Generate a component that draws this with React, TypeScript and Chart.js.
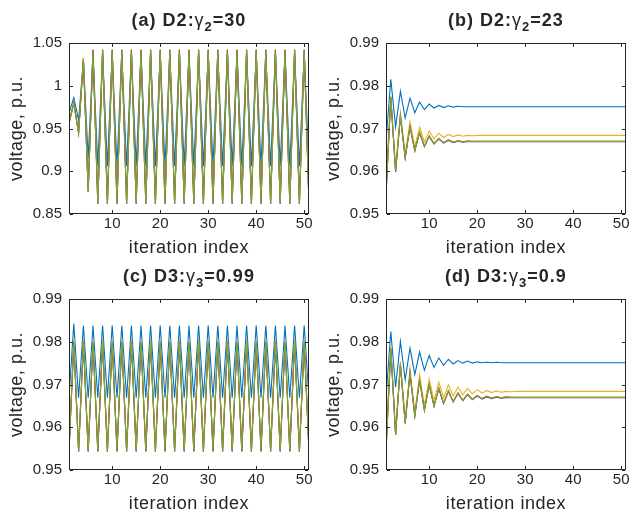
import React, { useEffect, useRef } from "react";
import { Chart, registerables } from "chart.js";

Chart.register(...registerables);

// ---------------- data ----------------
const iterations = [
  1, 2, 3, 4, 5, 6, 7, 8, 9, 10, 11, 12, 13, 14, 15, 16, 17, 18, 19, 20,
  21, 22, 23, 24, 25, 26, 27, 28, 29, 30, 31, 32, 33, 34, 35, 36, 37, 38, 39, 40,
  41, 42, 43, 44, 45, 46, 47, 48, 49, 50, 51,
];

const xTicks = [10, 20, 30, 40, 50];
const xTickLabels = ["10", "20", "30", "40", "50"];
const yTicksA = [0.85, 0.9, 0.95, 1, 1.05];
const yTickLabelsA = ["0.85", "0.9", "0.95", "1", "1.05"];
const yTicksB = [0.95, 0.96, 0.97, 0.98, 0.99];
const yTickLabelsB = ["0.95", "0.96", "0.97", "0.98", "0.99"];

const seriesColors = ["#0072BD", "#D95319", "#EDB120", "#7E2F8E", "#77AC30"];

// (a) D2: gamma2 = 30
const aBlue = [0.968, 0.986, 0.96, 1.03, 0.915, 1.038,
  0.906, 1.038, 0.906, 1.038, 0.906, 1.038, 0.906, 1.038, 0.906, 1.038,
  0.906, 1.038, 0.906, 1.038, 0.906, 1.038, 0.906, 1.038, 0.906, 1.038,
  0.906, 1.038, 0.906, 1.038, 0.906, 1.038, 0.906, 1.038, 0.906, 1.038,
  0.906, 1.038, 0.906, 1.038, 0.906, 1.038, 0.906, 1.038, 0.906, 1.038,
  0.906, 1.038, 0.906, 1.038, 0.906];
const aOrange = [0.957, 0.98, 0.945, 1.032, 0.876, 1.042,
  0.862, 1.042, 0.862, 1.042, 0.862, 1.042, 0.862, 1.042, 0.862, 1.042,
  0.862, 1.042, 0.862, 1.042, 0.862, 1.042, 0.862, 1.042, 0.862, 1.042,
  0.862, 1.042, 0.862, 1.042, 0.862, 1.042, 0.862, 1.042, 0.862, 1.042,
  0.862, 1.042, 0.862, 1.042, 0.862, 1.042, 0.862, 1.042, 0.862, 1.042,
  0.862, 1.042, 0.862, 1.042, 0.862];
const aYellow = [0.958, 0.981, 0.946, 1.032, 0.877, 1.041,
  0.863, 1.041, 0.863, 1.041, 0.863, 1.041, 0.863, 1.041, 0.863, 1.041,
  0.863, 1.041, 0.863, 1.041, 0.863, 1.041, 0.863, 1.041, 0.863, 1.041,
  0.863, 1.041, 0.863, 1.041, 0.863, 1.041, 0.863, 1.041, 0.863, 1.041,
  0.863, 1.041, 0.863, 1.041, 0.863, 1.041, 0.863, 1.041, 0.863, 1.041,
  0.863, 1.041, 0.863, 1.041, 0.863];
const aPurple = [0.956, 0.98, 0.945, 1.031, 0.876, 1.042,
  0.862, 1.042, 0.862, 1.042, 0.862, 1.042, 0.862, 1.042, 0.862, 1.042,
  0.862, 1.042, 0.862, 1.042, 0.862, 1.042, 0.862, 1.042, 0.862, 1.042,
  0.862, 1.042, 0.862, 1.042, 0.862, 1.042, 0.862, 1.042, 0.862, 1.042,
  0.862, 1.042, 0.862, 1.042, 0.862, 1.042, 0.862, 1.042, 0.862, 1.042,
  0.862, 1.042, 0.862, 1.042, 0.862];
const aGreen = [0.955, 0.979, 0.944, 1.031, 0.876, 1.041,
  0.863, 1.041, 0.863, 1.041, 0.863, 1.041, 0.863, 1.041, 0.863, 1.041,
  0.863, 1.041, 0.863, 1.041, 0.863, 1.041, 0.863, 1.041, 0.863, 1.041,
  0.863, 1.041, 0.863, 1.041, 0.863, 1.041, 0.863, 1.041, 0.863, 1.041,
  0.863, 1.041, 0.863, 1.041, 0.863, 1.041, 0.863, 1.041, 0.863, 1.041,
  0.863, 1.041, 0.863, 1.041, 0.863];

// (b) D2: gamma2 = 23
const bBlue = [0.967, 0.9815, 0.9704, 0.9787, 0.9725, 0.9771, 0.9737, 0.9762, 0.9744, 0.9757,
  0.9748, 0.9754, 0.9749, 0.9753, 0.975, 0.9752, 0.9751, 0.9751, 0.9751, 0.9751,
  0.9751, 0.9751, 0.9751, 0.9751, 0.9751, 0.9751, 0.9751, 0.9751, 0.9751, 0.9751,
  0.9751, 0.9751, 0.9751, 0.9751, 0.9751, 0.9751, 0.9751, 0.9751, 0.9751, 0.9751,
  0.9751, 0.9751, 0.9751, 0.9751, 0.9751, 0.9751, 0.9751, 0.9751, 0.9751, 0.9751,
  0.9751];
const bOrange = [0.954, 0.9774, 0.9598, 0.973, 0.9631, 0.9706, 0.9648, 0.9692, 0.9658, 0.9683,
  0.9664, 0.9677, 0.9667, 0.9674, 0.9668, 0.9672, 0.9669, 0.9671, 0.967, 0.967,
  0.967, 0.967, 0.967, 0.967, 0.967, 0.967, 0.967, 0.967, 0.967, 0.967,
  0.967, 0.967, 0.967, 0.967, 0.967, 0.967, 0.967, 0.967, 0.967, 0.967,
  0.967, 0.967, 0.967, 0.967, 0.967, 0.967, 0.967, 0.967, 0.967, 0.967,
  0.967];
const bYellow = [0.9585, 0.9776, 0.9608, 0.9737, 0.9642, 0.9716, 0.9658, 0.9703, 0.9669, 0.9694,
  0.9676, 0.9689, 0.9679, 0.9686, 0.9681, 0.9685, 0.9682, 0.9684, 0.9683, 0.9684,
  0.9684, 0.9684, 0.9684, 0.9684, 0.9684, 0.9684, 0.9684, 0.9684, 0.9684, 0.9684,
  0.9684, 0.9684, 0.9684, 0.9684, 0.9684, 0.9684, 0.9684, 0.9684, 0.9684, 0.9684,
  0.9684, 0.9684, 0.9684, 0.9684, 0.9684, 0.9684, 0.9684, 0.9684, 0.9684, 0.9684,
  0.9684];
const bPurple = [0.955, 0.9772, 0.9599, 0.9728, 0.9632, 0.9704, 0.9648, 0.969, 0.9658, 0.9681,
  0.9664, 0.9675, 0.9666, 0.9672, 0.9667, 0.967, 0.9668, 0.9669, 0.9669, 0.9669,
  0.9669, 0.9669, 0.9669, 0.9669, 0.9669, 0.9669, 0.9669, 0.9669, 0.9669, 0.9669,
  0.9669, 0.9669, 0.9669, 0.9669, 0.9669, 0.9669, 0.9669, 0.9669, 0.9669, 0.9669,
  0.9669, 0.9669, 0.9669, 0.9669, 0.9669, 0.9669, 0.9669, 0.9669, 0.9669, 0.9669,
  0.9669];
const bGreen = [0.9548, 0.9773, 0.9602, 0.9729, 0.9634, 0.9705, 0.9649, 0.9691, 0.9659, 0.9682,
  0.9665, 0.9676, 0.9667, 0.9673, 0.9668, 0.9671, 0.9669, 0.967, 0.967, 0.967,
  0.967, 0.967, 0.967, 0.967, 0.967, 0.967, 0.967, 0.967, 0.967, 0.967,
  0.967, 0.967, 0.967, 0.967, 0.967, 0.967, 0.967, 0.967, 0.967, 0.967,
  0.967, 0.967, 0.967, 0.967, 0.967, 0.967, 0.967, 0.967, 0.967, 0.967,
  0.967];

// (c) D3: gamma3 = 0.99
const cBlue = [0.967,
  0.9842, 0.9669, 0.9838, 0.9669, 0.9838, 0.9669, 0.9838, 0.9669, 0.9838, 0.9669,
  0.9838, 0.9669, 0.9838, 0.9669, 0.9838, 0.9669, 0.9838, 0.9669, 0.9838, 0.9669,
  0.9838, 0.9669, 0.9838, 0.9669, 0.9838, 0.9669, 0.9838, 0.9669, 0.9838, 0.9669,
  0.9838, 0.9669, 0.9838, 0.9669, 0.9838, 0.9669, 0.9838, 0.9669, 0.9838, 0.9669,
  0.9838, 0.9669, 0.9838, 0.9669, 0.9838, 0.9669, 0.9838, 0.9669, 0.9838, 0.9669];
const cOrange = [0.9543,
  0.9799, 0.9543, 0.9799, 0.9543, 0.9799, 0.9543, 0.9799, 0.9543, 0.9799, 0.9543,
  0.9799, 0.9543, 0.9799, 0.9543, 0.9799, 0.9543, 0.9799, 0.9543, 0.9799, 0.9543,
  0.9799, 0.9543, 0.9799, 0.9543, 0.9799, 0.9543, 0.9799, 0.9543, 0.9799, 0.9543,
  0.9799, 0.9543, 0.9799, 0.9543, 0.9799, 0.9543, 0.9799, 0.9543, 0.9799, 0.9543,
  0.9799, 0.9543, 0.9799, 0.9543, 0.9799, 0.9543, 0.9799, 0.9543, 0.9799, 0.9543];
const cYellow = [0.9548,
  0.9806, 0.9548, 0.9806, 0.9548, 0.9806, 0.9548, 0.9806, 0.9548, 0.9806, 0.9548,
  0.9806, 0.9548, 0.9806, 0.9548, 0.9806, 0.9548, 0.9806, 0.9548, 0.9806, 0.9548,
  0.9806, 0.9548, 0.9806, 0.9548, 0.9806, 0.9548, 0.9806, 0.9548, 0.9806, 0.9548,
  0.9806, 0.9548, 0.9806, 0.9548, 0.9806, 0.9548, 0.9806, 0.9548, 0.9806, 0.9548,
  0.9806, 0.9548, 0.9806, 0.9548, 0.9806, 0.9548, 0.9806, 0.9548, 0.9806, 0.9548];
const cPurple = [0.9544,
  0.9797, 0.9544, 0.9797, 0.9544, 0.9797, 0.9544, 0.9797, 0.9544, 0.9797, 0.9544,
  0.9797, 0.9544, 0.9797, 0.9544, 0.9797, 0.9544, 0.9797, 0.9544, 0.9797, 0.9544,
  0.9797, 0.9544, 0.9797, 0.9544, 0.9797, 0.9544, 0.9797, 0.9544, 0.9797, 0.9544,
  0.9797, 0.9544, 0.9797, 0.9544, 0.9797, 0.9544, 0.9797, 0.9544, 0.9797, 0.9544,
  0.9797, 0.9544, 0.9797, 0.9544, 0.9797, 0.9544, 0.9797, 0.9544, 0.9797, 0.9544];
const cGreen = [0.9546,
  0.9801, 0.9546, 0.9801, 0.9546, 0.9801, 0.9546, 0.9801, 0.9546, 0.9801, 0.9546,
  0.9801, 0.9546, 0.9801, 0.9546, 0.9801, 0.9546, 0.9801, 0.9546, 0.9801, 0.9546,
  0.9801, 0.9546, 0.9801, 0.9546, 0.9801, 0.9546, 0.9801, 0.9546, 0.9801, 0.9546,
  0.9801, 0.9546, 0.9801, 0.9546, 0.9801, 0.9546, 0.9801, 0.9546, 0.9801, 0.9546,
  0.9801, 0.9546, 0.9801, 0.9546, 0.9801, 0.9546, 0.9801, 0.9546, 0.9801, 0.9546];

// (d) D3: gamma3 = 0.9
const dBlue = [0.967, 0.9824, 0.9694, 0.9801, 0.9711, 0.9785, 0.9723, 0.9776, 0.9733, 0.9768,
  0.974, 0.9762, 0.9745, 0.9759, 0.9748, 0.9756, 0.975, 0.9755, 0.975, 0.9753,
  0.9751, 0.9752, 0.9751, 0.9752, 0.9751, 0.9751, 0.9751, 0.9751, 0.9751, 0.9751,
  0.9751, 0.9751, 0.9751, 0.9751, 0.9751, 0.9751, 0.9751, 0.9751, 0.9751, 0.9751,
  0.9751, 0.9751, 0.9751, 0.9751, 0.9751, 0.9751, 0.9751, 0.9751, 0.9751, 0.9751,
  0.9751];
const dOrange = [0.954, 0.9785, 0.9582, 0.9747, 0.9608, 0.9727, 0.9626, 0.9711, 0.9639, 0.97,
  0.9649, 0.9691, 0.9655, 0.9685, 0.9659, 0.968, 0.9662, 0.9677, 0.9665, 0.9674,
  0.9667, 0.9673, 0.9668, 0.9672, 0.9669, 0.9671, 0.967, 0.967, 0.967, 0.967,
  0.967, 0.967, 0.967, 0.967, 0.967, 0.967, 0.967, 0.967, 0.967, 0.967,
  0.967, 0.967, 0.967, 0.967, 0.967, 0.967, 0.967, 0.967, 0.967, 0.967,
  0.967];
const dYellow = [0.9585, 0.9789, 0.959, 0.9755, 0.9618, 0.9737, 0.9637, 0.9722, 0.9651, 0.9713,
  0.9662, 0.9705, 0.9669, 0.9699, 0.9673, 0.9694, 0.9676, 0.9691, 0.9678, 0.9688,
  0.968, 0.9686, 0.9681, 0.9685, 0.9682, 0.9684, 0.9683, 0.9684, 0.9684, 0.9684,
  0.9684, 0.9684, 0.9684, 0.9684, 0.9684, 0.9684, 0.9684, 0.9684, 0.9684, 0.9684,
  0.9684, 0.9684, 0.9684, 0.9684, 0.9684, 0.9684, 0.9684, 0.9684, 0.9684, 0.9684,
  0.9684];
const dPurple = [0.955, 0.9782, 0.9583, 0.9746, 0.961, 0.9726, 0.9627, 0.971, 0.964, 0.9699,
  0.965, 0.969, 0.9656, 0.9684, 0.966, 0.9679, 0.9663, 0.9676, 0.9665, 0.9673,
  0.9666, 0.9671, 0.9667, 0.967, 0.9668, 0.9669, 0.9669, 0.9669, 0.9669, 0.9669,
  0.9669, 0.9669, 0.9669, 0.9669, 0.9669, 0.9669, 0.9669, 0.9669, 0.9669, 0.9669,
  0.9669, 0.9669, 0.9669, 0.9669, 0.9669, 0.9669, 0.9669, 0.9669, 0.9669, 0.9669,
  0.9669];
const dGreen = [0.9545, 0.9784, 0.9584, 0.9748, 0.961, 0.9728, 0.9627, 0.9712, 0.964, 0.9701,
  0.965, 0.9692, 0.9656, 0.9686, 0.966, 0.9681, 0.9663, 0.9678, 0.9665, 0.9675,
  0.9667, 0.9673, 0.9668, 0.9672, 0.9669, 0.9671, 0.967, 0.967, 0.967, 0.967,
  0.967, 0.967, 0.967, 0.967, 0.967, 0.967, 0.967, 0.967, 0.967, 0.967,
  0.967, 0.967, 0.967, 0.967, 0.967, 0.967, 0.967, 0.967, 0.967, 0.967,
  0.967];

const xLabel = "iteration index";
const yLabel = "voltage, p.u.";

// ---------------- layout ----------------
const FONT = '"Liberation Sans", Arial, Helvetica, sans-serif';
const INK = "#262626";

type PanelDef = {
  id: string;
  prefix: string;
  sub: string;
  suffix: string;
  series: number[][];
  yMin: number;
  yMax: number;
  yTicks: number[];
  yTickLabels: string[];
  cx: number; cy: number; cw: number; ch: number;
  pl: number; pt: number; pr: number; pb: number;
};

const panels: PanelDef[] = [
  {
    id: "a", prefix: "(a) D2:", sub: "2", suffix: "=30",
    series: [aBlue, aOrange, aYellow, aPurple, aGreen],
    yMin: 0.85, yMax: 1.05, yTicks: yTicksA, yTickLabels: yTickLabelsA,
    cx: 0, cy: 0, cw: 317, ch: 259, pl: 69, pt: 43, pr: 309, pb: 214,
  },
  {
    id: "b", prefix: "(b) D2:", sub: "2", suffix: "=23",
    series: [bBlue, bOrange, bYellow, bPurple, bGreen],
    yMin: 0.95, yMax: 0.99, yTicks: yTicksB, yTickLabels: yTickLabelsB,
    cx: 317, cy: 0, cw: 312, ch: 259, pl: 386, pt: 43, pr: 626, pb: 214,
  },
  {
    id: "c", prefix: "(c) D3:", sub: "3", suffix: "=0.99",
    series: [cBlue, cOrange, cYellow, cPurple, cGreen],
    yMin: 0.95, yMax: 0.99, yTicks: yTicksB, yTickLabels: yTickLabelsB,
    cx: 0, cy: 259, cw: 317, ch: 258, pl: 69, pt: 299, pr: 309, pb: 470,
  },
  {
    id: "d", prefix: "(d) D3:", sub: "3", suffix: "=0.9",
    series: [dBlue, dOrange, dYellow, dPurple, dGreen],
    yMin: 0.95, yMax: 0.99, yTicks: yTicksB, yTickLabels: yTickLabelsB,
    cx: 317, cy: 259, cw: 312, ch: 258, pl: 386, pt: 299, pr: 626, pb: 470,
  },
];

function spacedWidth(ctx: CanvasRenderingContext2D, text: string, spacing: number) {
  let w = 0;
  for (const ch of text) w += ctx.measureText(ch).width + spacing;
  return w;
}
function drawSpaced(ctx: CanvasRenderingContext2D, text: string, x: number, y: number, spacing: number) {
  for (const ch of text) {
    ctx.fillText(ch, x, y);
    x += ctx.measureText(ch).width + spacing;
  }
  return x;
}

const decorPlugin = {
  id: "decor",
  afterDraw(chart: any, _args: any, opts: any) {
    const p: PanelDef = opts.panel;
    const ctx: CanvasRenderingContext2D = chart.ctx;
    const { left, top, right, bottom } = chart.chartArea;
    const xs = chart.scales.x;
    const ys = chart.scales.y;
    ctx.save();
    ctx.strokeStyle = INK;
    ctx.lineWidth = 1;
    ctx.strokeRect(left + 0.5, top + 0.5, right - left - 1, bottom - top - 1);
    ctx.beginPath();
    const tl = 3;
    for (const v of xTicks) {
      const px = Math.round(xs.getPixelForValue(v)) + 0.5;
      ctx.moveTo(px, bottom - 1); ctx.lineTo(px, bottom - 1 - tl);
      ctx.moveTo(px, top + 1); ctx.lineTo(px, top + 1 + tl);
    }
    for (const v of p.yTicks) {
      const py = Math.round(ys.getPixelForValue(v)) + 0.5;
      ctx.moveTo(left + 1, py); ctx.lineTo(left + 1 + tl, py);
      ctx.moveTo(right - 1, py); ctx.lineTo(right - 1 - tl, py);
    }
    ctx.stroke();

    // title
    ctx.fillStyle = INK;
    ctx.textBaseline = "alphabetic";
    ctx.textAlign = "left";
    const boldF = `bold 18px ${FONT}`;
    const gamF = `18px ${FONT}`;
    const subF = `bold 13px ${FONT}`;
    const sp = 1;
    ctx.font = boldF;
    const w1 = spacedWidth(ctx, p.prefix, sp);
    const w4 = spacedWidth(ctx, p.suffix, sp);
    ctx.font = gamF;
    const w2 = spacedWidth(ctx, "γ", sp);
    ctx.font = subF;
    const w3 = spacedWidth(ctx, p.sub, sp);
    const total = w1 + w2 + w3 + w4;
    let x = (left + right) / 2 - total / 2;
    const by = top - 17;
    ctx.font = boldF; x = drawSpaced(ctx, p.prefix, x, by, sp);
    ctx.font = gamF; x = drawSpaced(ctx, "γ", x, by, sp);
    ctx.font = subF; x = drawSpaced(ctx, p.sub, x, by + 5, sp);
    ctx.font = boldF; drawSpaced(ctx, p.suffix, x, by, sp);

    // x label
    ctx.font = `18px ${FONT}`;
    const lsp = 0.55;
    const xw = spacedWidth(ctx, xLabel, lsp);
    drawSpaced(ctx, xLabel, (left + right) / 2 - xw / 2, bottom + 39, lsp);

    // y label
    const yw = spacedWidth(ctx, yLabel, lsp);
    ctx.translate(left - 47, (top + bottom) / 2);
    ctx.rotate(-Math.PI / 2);
    drawSpaced(ctx, yLabel, -yw / 2, 0, lsp);
    ctx.restore();
  },
};

function makeConfig(p: PanelDef): any {
  const datasets = p.series.map((vals, i) => ({
    data: iterations.map((it, j) => ({ x: it, y: vals[j] })),
    borderColor: seriesColors[i],
    backgroundColor: seriesColors[i],
    borderWidth: 1.1,
    pointRadius: 0,
    fill: false,
    tension: 0,
    order: p.series.length - 1 - i,
  }));
  return {
    type: "line",
    data: { datasets },
    plugins: [decorPlugin],
    options: {
      responsive: false,
      animation: false,
      devicePixelRatio: 1,
      events: [],
      layout: {
        padding: { left: 0, top: p.pt - p.cy, right: p.cx + p.cw - p.pr, bottom: 0 },
      },
      plugins: {
        legend: { display: false },
        tooltip: { enabled: false },
        title: { display: false },
        decor: { panel: p },
      },
      scales: {
        x: {
          type: "linear",
          min: 1,
          max: 51,
          grid: { display: false, drawTicks: false },
          border: { display: false },
          afterBuildTicks: (s: any) => { s.ticks = xTicks.map((v) => ({ value: v })); },
          afterFit: (s: any) => { s.height = p.cy + p.ch - p.pb; s.paddingLeft = 0; s.paddingRight = 0; },
          ticks: {
            autoSkip: false,
            maxRotation: 0,
            padding: 1,
            color: INK,
            font: { family: FONT, size: 15 },
            callback: (_v: any, i: number) => xTickLabels[i],
          },
        },
        y: {
          type: "linear",
          min: p.yMin,
          max: p.yMax,
          grid: { display: false, drawTicks: false },
          border: { display: false },
          afterBuildTicks: (s: any) => { s.ticks = p.yTicks.map((v) => ({ value: v })); },
          afterFit: (s: any) => { s.width = p.pl - p.cx; s.paddingTop = 0; s.paddingBottom = 0; },
          ticks: {
            autoSkip: false,
            padding: 7,
            color: INK,
            font: { family: FONT, size: 15 },
            callback: (_v: any, i: number) => p.yTickLabels[i],
          },
        },
      },
    },
  };
}

function Panel({ p }: { p: PanelDef }) {
  const ref = useRef<HTMLCanvasElement>(null);
  useEffect(() => {
    if (!ref.current) return;
    const chart = new Chart(ref.current, makeConfig(p));
    return () => chart.destroy();
  }, [p]);
  return (
    <canvas
      ref={ref}
      width={p.cw}
      height={p.ch}
      style={{ position: "absolute", left: p.cx, top: p.cy, width: p.cw, height: p.ch, display: "block" }}
    />
  );
}

export default function App() {
  return (
    <div style={{ position: "absolute", left: 0, top: 0, width: 629, height: 517, background: "#ffffff" }}>
      {panels.map((p) => (
        <Panel key={p.id} p={p} />
      ))}
    </div>
  );
}
